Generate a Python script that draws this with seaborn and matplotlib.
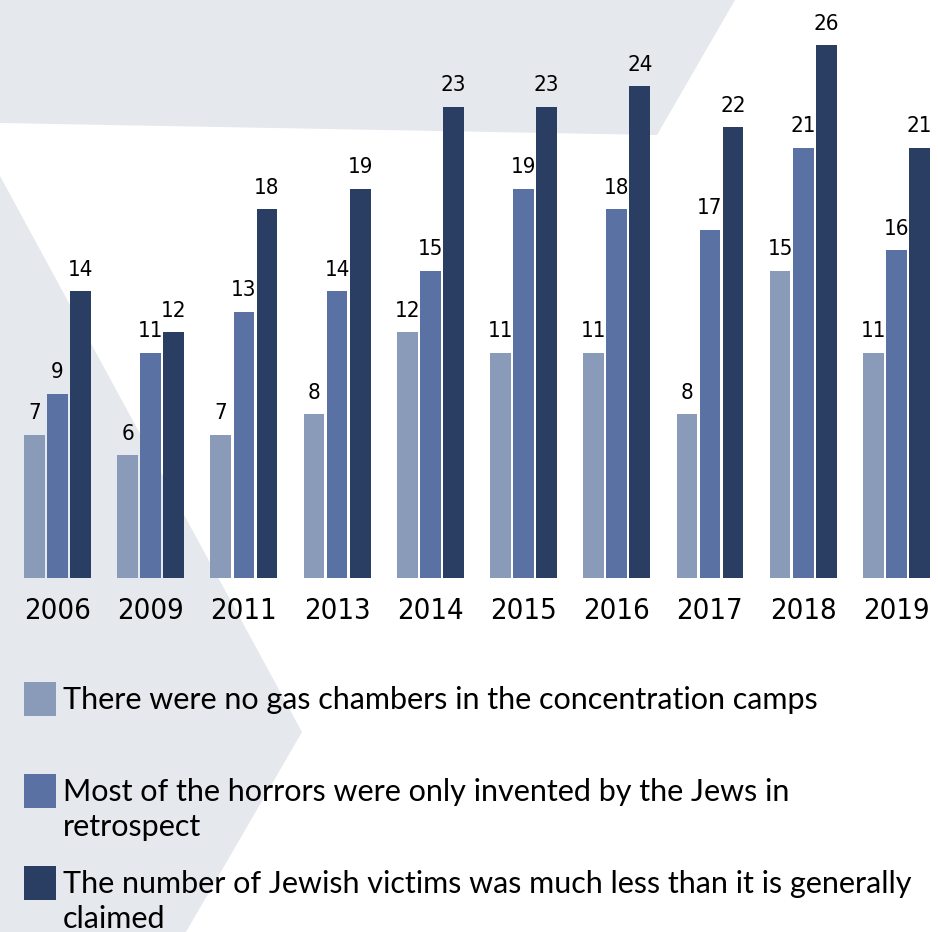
import matplotlib
matplotlib.use("Agg")
import matplotlib.pyplot as plt
from matplotlib import font_manager as fm
from matplotlib.patches import Polygon, Rectangle
import seaborn as sns
import pandas as pd

years = ["2006", "2009", "2011", "2013", "2014", "2015", "2016", "2017", "2018", "2019"]
no_gas_chambers = [7, 6, 7, 8, 12, 11, 11, 8, 15, 11]
invented_by_jews = [9, 11, 13, 14, 15, 19, 18, 17, 21, 16]
fewer_victims = [14, 12, 18, 19, 23, 23, 24, 22, 26, 21]

series_labels = [
    "There were no gas chambers in the concentration camps",
    "Most of the horrors were only invented by the Jews in\nretrospect",
    "The number of Jewish victims was much less than it is generally\nclaimed",
]
colors = ["#8A9AB9", "#5A71A3", "#2A3D63"]

df = pd.DataFrame({
    "year": years * 3,
    "value": no_gas_chambers + invented_by_jews + fewer_victims,
    "series": [s for s in ["a", "b", "c"] for _ in years],
})


def narrow_font():
    entries = fm.fontManager.ttflist
    for f in entries:
        if f.name == "Liberation Sans Narrow":
            return {"family": "Liberation Sans Narrow"}
    for f in entries:
        if f.name == "DejaVu Sans" and str(f.stretch) in ("condensed", "semi-condensed"):
            return {"family": "DejaVu Sans", "stretch": "condensed"}
    return {"family": "Roboto"}


sns.set_theme(style="white")
narrow = narrow_font()
W, H = 938, 932
fig = plt.figure(figsize=(W / 100, H / 100), dpi=100)
fig.patch.set_facecolor("white")


def px(x, y):
    return (x / W, 1 - y / H)


# pale backdrop shapes behind the chart
bg = "#E5E8EC"
fig.patches.append(Polygon([px(0, 0), px(735, 0), px(657, 135), px(0, 123)],
                           closed=True, transform=fig.transFigure,
                           facecolor=bg, edgecolor="none", zorder=-5))
fig.patches.append(Polygon([px(0, 176), px(302, 732), px(186, 932), px(0, 932)],
                           closed=True, transform=fig.transFigure,
                           facecolor=bg, edgecolor="none", zorder=-5))

bottom = 1 - 578 / H
ax = fig.add_axes([0, bottom, 1, 1 - bottom])
ax.set_facecolor("none")
ax.set_zorder(2)

sns.barplot(data=df, x="year", y="value", hue="series", palette=colors,
            width=0.742, gap=0.1, legend=False, ax=ax, saturation=1,
            linewidth=0)

ax.set_xlim(-0.617, 9.447)
ax.set_ylim(0, 578 / 20.5)
for s in ax.spines.values():
    s.set_visible(False)
ax.set_yticks([])
ax.set_xlabel("")
ax.set_ylabel("")
ax.tick_params(axis="x", length=0, pad=14)
for lab in ax.get_xticklabels():
    lab.set_fontsize(21)
    lab.set_fontfamily(narrow["family"])
    if "stretch" in narrow:
        lab.set_fontstretch(narrow["stretch"])
    lab.set_color("#000000")

for cont in ax.containers:
    texts = ax.bar_label(cont, padding=8, fontsize=16, color="#000000",
                         family=narrow["family"])
    if "stretch" in narrow:
        for t in texts:
            t.set_fontstretch(narrow["stretch"])

# legend drawn as swatches with wrapped descriptions
legend_rows = [(682, 698), (774, 790), (866, 882)]
for (top, center), col, label in zip(legend_rows, colors, series_labels):
    x0, y0 = px(24, top + 34)
    fig.patches.append(Rectangle((x0, y0), 32 / W, 34 / H, transform=fig.transFigure,
                                 facecolor=col, edgecolor="none", zorder=3))
    fig.text(63 / W, 1 - (center - 12) / H, label, ha="left", va="top",
             fontsize=22, family="Lato", color="#000000", linespacing=1.3,
             zorder=3)

fig.savefig("out.png", dpi=100)
